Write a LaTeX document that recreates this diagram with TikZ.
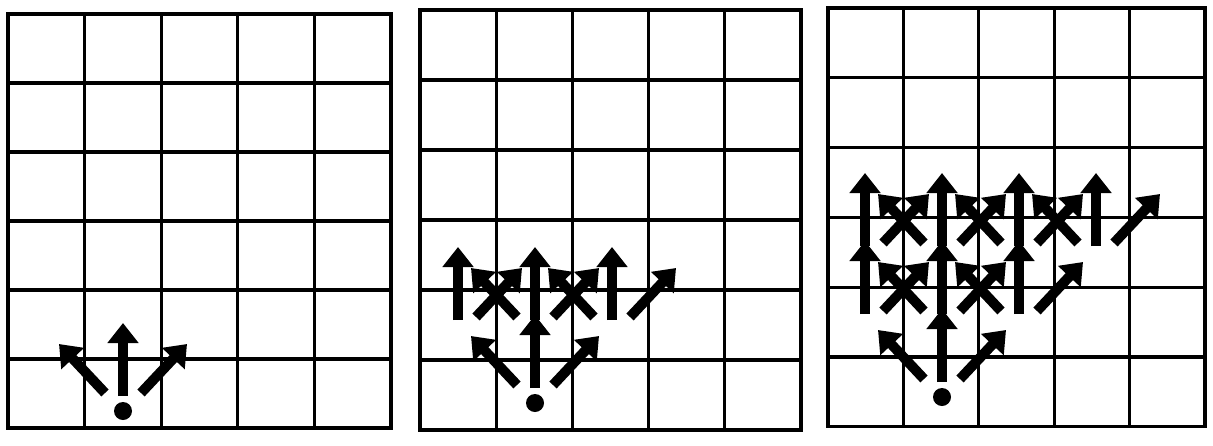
\documentclass[tikz,border=0pt]{standalone}
\usetikzlibrary{arrows.meta,calc}

\begin{document}
\begin{tikzpicture}[x=0.5pt,y=-0.5pt,
  gridline/.style={line width=1.6pt,line cap=rect},
  move/.style={line width=5pt,-{Triangle[width=15pt,length=10pt]}},
  dot/.style={circle,fill,inner sep=0pt,minimum size=9pt}]
  \useasboundingbox (0,0) rectangle (1213,445);
  \foreach \gx/\gy/\gw/\gh in {8/14/76.6/69, 420/10/76.2/70, 828/8/75.4/69.8} {
    \foreach \i in {0,...,5}
      \draw[gridline] (\gx+\gw*\i,\gy) -- (\gx+\gw*\i,\gy+6*\gh);
    \foreach \j in {0,...,6}
      \draw[gridline] (\gx,\gy+\gh*\j) -- (\gx+5*\gw,\gy+\gh*\j);
  }
  \node[dot] (start1) at (123,411) {};
  \node[dot] (start2) at (535,403) {};
  \node[dot] (start3) at (942,397) {};
  \foreach \s/\c/\r in {start1/1/0,
      start2/1/0, start2/0/1, start2/1/1, start2/2/1,
      start3/1/0, start3/0/1, start3/1/1, start3/2/1,
      start3/0/2, start3/1/2, start3/2/2, start3/3/2} {
    \coordinate (site) at ($(\s)+({77*(\c-1)},{-68*\r})$);
    \draw[move] ($(site)+(0,-15)$) -- ($(site)+(0,-88)$);
    \draw[move] ($(site)+(18,-18)$) -- ($(site)+(64,-67)$);
    \ifnum\c>0
      \draw[move] ($(site)+(-18,-18)$) -- ($(site)+(-64,-67)$);
    \fi
  }
\end{tikzpicture}
\end{document}
